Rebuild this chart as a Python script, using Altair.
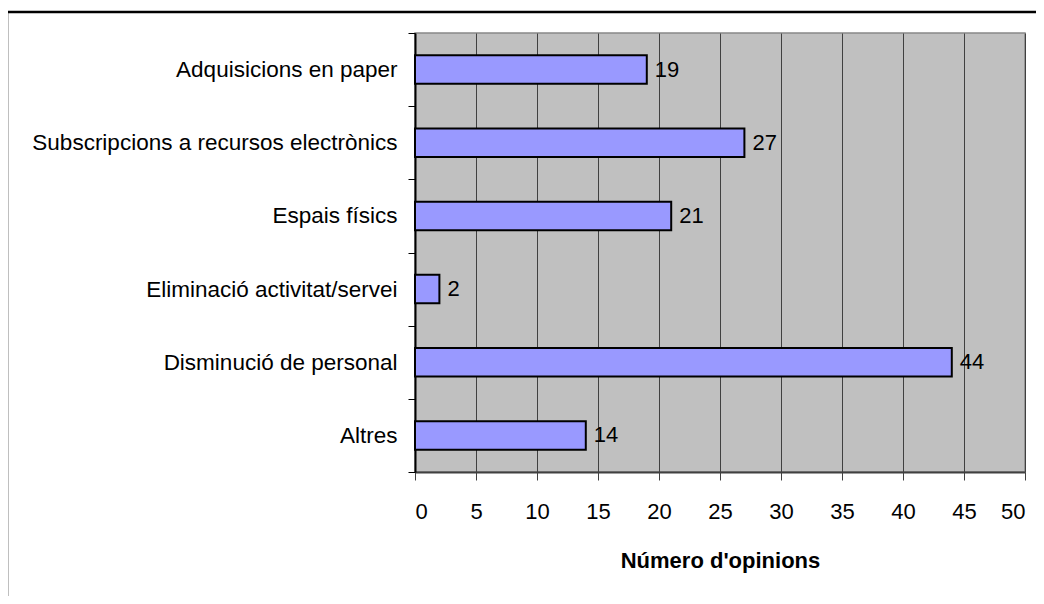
import altair as alt
import pandas as pd

categories = [
    "Adquisicions en paper",
    "Subscripcions a recursos electrònics",
    "Espais físics",
    "Eliminació activitat/servei",
    "Disminució de personal",
    "Altres",
]
values = [19, 27, 21, 2, 44, 14]
x_ticks = list(range(0, 55, 5))

df = pd.DataFrame({"cat": categories, "val": values})

FONT = "Liberation Sans"

y_enc = alt.Y(
    "cat:N",
    sort=categories,
    title=None,
    scale=alt.Scale(paddingInner=0, paddingOuter=0),
    axis=alt.Axis(
        tickBand="extent",
        labelFont=FONT,
        labelFontSize=22.5,
        labelColor="#000000",
        labelPadding=11,
        tickSize=7,
        tickColor="#000000",
        tickWidth=1,
        domainColor="#000000",
        domainWidth=2,
        grid=False,
        labelLimit=600,
    ),
)

x_enc = alt.X(
    "val:Q",
    title="Número d'opinions",
    scale=alt.Scale(domain=[0, 50], nice=False, zero=True),
    axis=alt.Axis(
        values=x_ticks,
        labelFont=FONT,
        labelFontSize=22,
        labelColor="#000000",
        labelPadding=21,
        tickSize=8,
        tickColor="#404040",
        tickWidth=1,
        domainColor="#404040",
        domainWidth=2,
        grid=True,
        gridColor="#404040",
        gridWidth=1,
        titleFont=FONT,
        titleFontSize=22,
        titleFontWeight="bold",
        titleColor="#000000",
        titlePadding=28,
    ),
)

bars = alt.Chart(df).mark_bar(
    color="#9999FF", stroke="#000000", strokeWidth=2, height={"band": 0.39}
).encode(x=x_enc, y=y_enc)

labels = alt.Chart(df).mark_text(
    align="left", baseline="middle", dx=8, font=FONT, fontSize=22, color="#000000"
).encode(
    x=alt.X("val:Q"),
    y=alt.Y("cat:N", sort=categories),
    text=alt.Text("val:Q"),
)

frame = alt.Chart(pd.DataFrame({"a": [0]})).mark_rect(
    fill=None, stroke="#000000", strokeWidth=2.5
).encode(
    x=alt.value(-408),
    x2=alt.value(640),
    y=alt.value(-21),
    y2=alt.value(590),
)

chart = (
    alt.layer(bars, labels, frame)
    .properties(
        width=610,
        height=439,
        autosize=alt.AutoSizeParams(type="none"),
        padding={"left": 407, "top": 25, "right": 11, "bottom": 124},
        background="white",
    )
    .configure_view(fill="#C0C0C0", stroke="#888888", strokeWidth=1.5)
)

chart.save("out.html", embed_options={"renderer": "svg", "actions": False})
